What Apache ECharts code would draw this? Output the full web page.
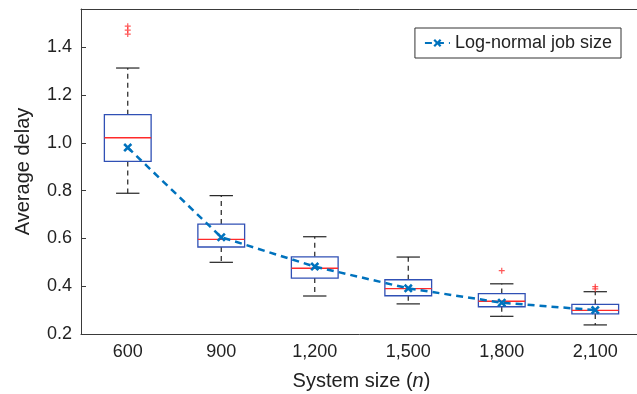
<!DOCTYPE html>
<html>
<head>
<meta charset="utf-8">
<script src="https://cdn.jsdelivr.net/npm/echarts@6/dist/echarts.min.js"></script>
<style>
  html, body { margin: 0; padding: 0; background: #fff; }
  #chart { width: 637px; height: 394px; }
</style>
</head>
<body>
<div id="chart"></div>
<script>
const categories = ['600', '900', '1,200', '1,500', '1,800', '2,100'];
// [low whisker, q1, median, q3, high whisker]
const boxStats = [
  [0.789, 0.922, 1.021, 1.118, 1.313],
  [0.500, 0.564, 0.596, 0.660, 0.779],
  [0.359, 0.434, 0.475, 0.523, 0.607],
  [0.326, 0.360, 0.390, 0.427, 0.522],
  [0.274, 0.314, 0.337, 0.369, 0.410],
  [0.238, 0.284, 0.299, 0.324, 0.377]
];
const outliers = [
  [0, 1.488], [0, 1.472], [0, 1.455],
  [4, 0.465],
  [5, 0.398], [5, 0.389]
];
const means = [0.980, 0.605, 0.482, 0.391, 0.331, 0.300];
const yTicks = { min: 0.2, max: 1.56, interval: 0.2 };

const chart = echarts.init(document.getElementById('chart'));

const font = 'Liberation Sans, Arial, Helvetica, sans-serif';
const axisColor = '#3a3a3a';
const boxColor = '#3050b5';
const medianColor = '#ff2a2a';
const meanColor = '#0072BD';

function renderBox(params, api) {
  const idx = api.value(0);
  const band = api.size([1, 0])[0];
  const boxW = band * 0.5;
  const capW = band * 0.25;
  const low = api.coord([idx, api.value(1)]);
  const q1 = api.coord([idx, api.value(2)]);
  const med = api.coord([idx, api.value(3)]);
  const q3 = api.coord([idx, api.value(4)]);
  const high = api.coord([idx, api.value(5)]);
  const x = low[0];
  const dashed = { stroke: '#222', lineWidth: 1.2, lineDash: [5, 4] };
  const solid = { stroke: '#222', lineWidth: 1.2 };
  return {
    type: 'group',
    children: [
      { type: 'line', shape: { x1: x, y1: q3[1], x2: x, y2: high[1] }, style: dashed },
      { type: 'line', shape: { x1: x, y1: q1[1], x2: x, y2: low[1] }, style: dashed },
      { type: 'line', shape: { x1: x - capW / 2, y1: high[1], x2: x + capW / 2, y2: high[1] }, style: solid },
      { type: 'line', shape: { x1: x - capW / 2, y1: low[1], x2: x + capW / 2, y2: low[1] }, style: solid },
      { type: 'rect', shape: { x: x - boxW / 2, y: q3[1], width: boxW, height: q1[1] - q3[1] },
        style: { fill: '#fff', stroke: boxColor, lineWidth: 1.3 } },
      { type: 'line', shape: { x1: x - boxW / 2, y1: med[1], x2: x + boxW / 2, y2: med[1] },
        style: { stroke: medianColor, lineWidth: 1.4 } }
    ]
  };
}

const xMark = 'path://M0,2 L2,0 L5,3 L8,0 L10,2 L7,5 L10,8 L8,10 L5,7 L2,10 L0,8 L3,5 Z';
const plusMark = 'path://M4,0 L6,0 L6,4 L10,4 L10,6 L6,6 L6,10 L4,10 L4,6 L0,6 L0,4 L4,4 Z';

const tickLabelStyle = { fontFamily: font, fontSize: 18, color: '#222' };

const option = {
  animation: false,
  backgroundColor: '#fff',
  grid: { left: 81, top: 9, width: 561, height: 325, outerBoundsMode: 'none', containLabel: false },
  legend: {
    right: 16,
    top: 28,
    padding: [6, 9],
    borderColor: '#333',
    borderWidth: 1,
    itemWidth: 25,
    itemHeight: 10,
    textStyle: { fontFamily: font, fontSize: 18, color: '#222' },
    data: ['Log-normal job size']
  },
  xAxis: [
    {
      type: 'category',
      data: categories,
      boundaryGap: true,
      name: 'System size ({i|n})',
      nameLocation: 'middle',
      nameGap: 37,
      nameTextStyle: {
        fontFamily: font, fontSize: 20, color: '#222',
        rich: { i: { fontFamily: font, fontSize: 20, fontStyle: 'italic', color: '#222' } }
      },
      axisLine: { lineStyle: { color: axisColor, width: 1 } },
      axisTick: { inside: true, alignWithLabel: true, length: 5, lineStyle: { color: axisColor } },
      axisLabel: Object.assign({ margin: 9 }, tickLabelStyle),
      splitLine: { show: false }
    },
    {
      type: 'category',
      data: categories,
      position: 'top',
      boundaryGap: true,
      axisLine: { lineStyle: { color: axisColor, width: 1 } },
      axisTick: { inside: true, alignWithLabel: true, length: 5, lineStyle: { color: axisColor } },
      axisLabel: { show: false },
      splitLine: { show: false }
    }
  ],
  yAxis: [
    {
      type: 'value',
      min: yTicks.min,
      max: yTicks.max,
      interval: yTicks.interval,
      name: 'Average delay',
      nameLocation: 'middle',
      nameGap: 48,
      nameTextStyle: { fontFamily: font, fontSize: 20, color: '#222' },
      axisLine: { show: true, lineStyle: { color: axisColor, width: 1 } },
      axisTick: { show: true, inside: true, length: 5, lineStyle: { color: axisColor } },
      axisLabel: Object.assign({
        margin: 9,
        showMaxLabel: false,
        formatter: v => (Math.abs(v / 0.2 - Math.round(v / 0.2)) < 1e-6 ? v.toFixed(1) : '')
      }, tickLabelStyle),
      splitLine: { show: false }
    },
    {
      type: 'value',
      position: 'right',
      min: yTicks.min,
      max: yTicks.max,
      interval: yTicks.interval,
      axisLine: { show: true, lineStyle: { color: axisColor, width: 1 } },
      axisTick: { show: true, inside: true, length: 5, lineStyle: { color: axisColor } },
      axisLabel: { show: false },
      splitLine: { show: false }
    }
  ],
  series: [
    {
      name: 'boxes',
      type: 'custom',
      renderItem: renderBox,
      encode: { x: 0, y: [1, 2, 3, 4, 5] },
      data: boxStats.map((s, i) => [i].concat(s)),
      z: 2
    },
    {
      name: 'outliers',
      type: 'scatter',
      symbol: plusMark,
      symbolSize: 6,
      itemStyle: { color: '#ff3030' },
      data: outliers,
      z: 3
    },
    {
      name: 'Log-normal job size',
      type: 'line',
      data: means,
      symbol: xMark,
      symbolSize: 9,
      showAllSymbol: true,
      lineStyle: { color: meanColor, width: 2.5, type: [7, 5] },
      itemStyle: { color: meanColor },
      z: 4
    }
  ]
};

chart.setOption(option);
</script>
</body>
</html>
